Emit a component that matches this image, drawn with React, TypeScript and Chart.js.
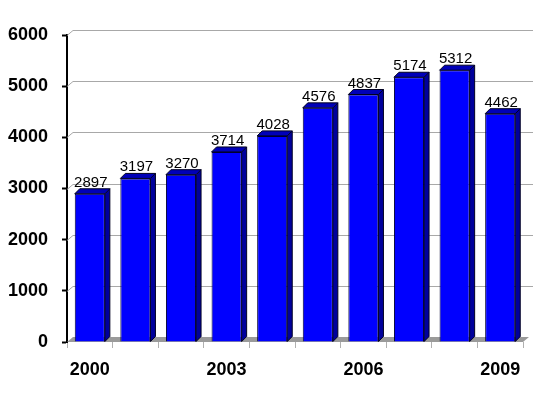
import React, { useEffect, useRef } from "react";
import { Chart, registerables } from "chart.js";

Chart.register(...registerables);

const years = ["2000", "2001", "2002", "2003", "2004", "2005", "2006", "2007", "2008", "2009"];
const values = [2897, 3197, 3270, 3714, 4028, 4576, 4837, 5174, 5312, 4462];
const shownYears = ["2000", "2003", "2006", "2009"];
const yMin = 0;
const yMax = 6000;
const yStep = 1000;

const FONT = 'Arial, "Liberation Sans", sans-serif';
const DEPTH_WALL = 6;
const DEPTH_BAR = 5;

const threeD = {
  id: "threeD",
  beforeDatasetsDraw(chart: any) {
    const { ctx, chartArea, scales } = chart;
    const y = scales.y;
    const left = chartArea.left;
    const right = chartArea.right;
    const bottom = y.getPixelForValue(0);
    ctx.save();
    ctx.strokeStyle = "#a8a8a8";
    ctx.lineWidth = 1;
    for (let v = yStep; v <= yMax; v += yStep) {
      const py = Math.round(y.getPixelForValue(v)) + 0.5;
      ctx.beginPath();
      ctx.moveTo(left, py);
      ctx.lineTo(left + DEPTH_WALL, py - DEPTH_WALL + 1);
      ctx.lineTo(right + 10, py - DEPTH_WALL + 1);
      ctx.stroke();
    }
    ctx.fillStyle = "#9a9a9a";
    ctx.beginPath();
    ctx.moveTo(left, bottom);
    ctx.lineTo(right, bottom);
    ctx.lineTo(right + DEPTH_WALL, bottom - DEPTH_WALL + 1);
    ctx.lineTo(left + DEPTH_WALL, bottom - DEPTH_WALL + 1);
    ctx.closePath();
    ctx.fill();
    ctx.restore();
  },
  afterDatasetsDraw(chart: any) {
    const { ctx } = chart;
    const meta = chart.getDatasetMeta(0);
    const d = DEPTH_BAR;
    ctx.save();
    ctx.lineWidth = 1;
    ctx.strokeStyle = "#000022";
    meta.data.forEach((bar: any, i: number) => {
      const { x, y, base, width } = bar.getProps(["x", "y", "base", "width"], true);
      const l = x - width / 2;
      const r = x + width / 2;
      ctx.fillStyle = "#00009c";
      ctx.beginPath();
      ctx.moveTo(r, y);
      ctx.lineTo(r + d, y - d);
      ctx.lineTo(r + d, base - d);
      ctx.lineTo(r, base);
      ctx.closePath();
      ctx.fill();
      ctx.stroke();
      ctx.fillStyle = "#0000b8";
      ctx.beginPath();
      ctx.moveTo(l, y);
      ctx.lineTo(l + d, y - d);
      ctx.lineTo(r + d, y - d);
      ctx.lineTo(r, y);
      ctx.closePath();
      ctx.fill();
      ctx.stroke();
      ctx.fillStyle = "#000";
      ctx.font = `15px ${FONT}`;
      ctx.textAlign = "center";
      ctx.textBaseline = "alphabetic";
      ctx.fillText(String(values[i]), x + 1, y - d - 2);
    });
    ctx.restore();
  },
};

export default function App() {
  const ref = useRef<HTMLCanvasElement>(null);
  useEffect(() => {
    if (!ref.current) return;
    const chart = new Chart(ref.current, {
      type: "bar",
      data: {
        labels: years,
        datasets: [
          {
            data: values,
            backgroundColor: "#0000ff",
            borderColor: "#000033",
            borderWidth: 1,
            categoryPercentage: 1,
            barPercentage: 0.66,
          },
        ],
      },
      options: {
        responsive: false,
        animation: false,
        layout: { padding: { top: 35, right: 12, left: 0, bottom: 0 } },
        plugins: { legend: { display: false }, tooltip: { enabled: false } },
        scales: {
          x: {
            afterFit: (s: any) => {
              s.height = 56;
            },
            grid: {
              drawOnChartArea: false,
              drawTicks: true,
              tickLength: 6,
              tickColor: "#b0b0b0",
              offset: true,
            },
            border: { display: false },
            ticks: {
              autoSkip: false,
              maxRotation: 0,
              padding: 11,
              color: "#000",
              font: { family: FONT, size: 18, weight: "bold" },
              callback: (_v: any, i: number) => (shownYears.includes(years[i]) ? years[i] : ""),
            },
          },
          y: {
            min: yMin,
            max: yMax,
            afterFit: (s: any) => {
              s.width = 67;
            },
            grid: {
              drawOnChartArea: false,
              drawTicks: true,
              tickLength: 5,
              tickColor: "#000",
              tickWidth: 2,
            },
            border: { display: true, color: "#000", width: 2 },
            ticks: {
              stepSize: yStep,
              padding: 14,
              color: "#000",
              font: { family: FONT, size: 18, weight: "bold" },
              callback: (v: any) => String(v),
            },
          },
        },
      },
      plugins: [threeD],
    });
    return () => chart.destroy();
  }, []);
  return (
    <div style={{ position: "fixed", left: 0, top: 0, width: 535, height: 398, background: "#fff" }}>
      <canvas ref={ref} width={535} height={398} style={{ display: "block" }} />
    </div>
  );
}
